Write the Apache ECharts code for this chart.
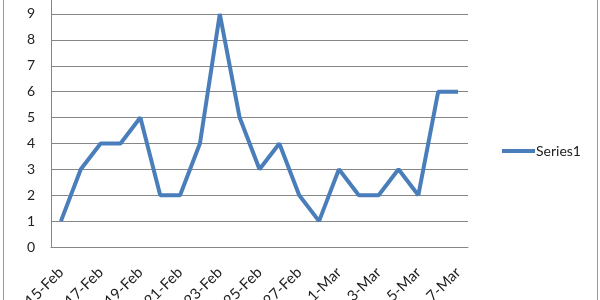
<!DOCTYPE html>
<html><head><meta charset="utf-8">
<script src="https://cdn.jsdelivr.net/npm/echarts@6/dist/echarts.min.js"></script>
<style>html,body{margin:0;padding:0;background:#fff}#c{width:600px;height:300px}</style>
</head><body><div id="c"></div>
<script>
var categories = ['15-Feb','16-Feb','17-Feb','18-Feb','19-Feb','20-Feb','21-Feb','22-Feb','23-Feb','24-Feb','25-Feb','26-Feb','27-Feb','28-Feb','1-Mar','2-Mar','3-Mar','4-Mar','5-Mar','6-Mar','7-Mar'];
var series1 = [1,3,4,4,5,2,2,4,9,5,3,4,2,1,3,2,2,3,2,6,6];
var seriesName = 'Series1';

var chart = echarts.init(document.getElementById('c'));
chart.setOption({
  animation: false,
  grid: {left: 51, top: 0, width: 417, height: 247, containLabel: false, outerBoundsMode: 'none'},
  legend: {
    data: [seriesName], left: 497, top: 139, icon: 'rect', itemWidth: 33, itemHeight: 4,
    textStyle: {fontFamily: 'Lato', fontSize: 14, color: '#222', padding: [0,0,0,-4]}
  },
  xAxis: {
    type: 'category', data: categories, boundaryGap: true,
    axisLine: {lineStyle: {color: '#868686', width: 1}},
    axisTick: {interval: 1, length: 5, lineStyle: {color: '#868686'}},
    axisLabel: {interval: 1, rotate: 45, margin: 23, fontFamily: 'Lato', fontSize: 15, color: '#222'}
  },
  yAxis: {
    type: 'value', min: 0, max: 9.54, interval: 1,
    axisLine: {show: true, lineStyle: {color: '#868686', width: 1}},
    axisTick: {show: false},
    splitLine: {showMaxLine: false, lineStyle: {color: '#868686', width: 1}},
    axisLabel: {margin: 16, showMaxLabel: false, fontFamily: 'Lato', fontSize: 14, color: '#222',
      formatter: function (v) { return Number.isInteger(v) ? String(v) : ''; }}
  },
  graphic: [
    {type: 'line', shape: {x1: 3.5, y1: 0, x2: 3.5, y2: 300}, style: {stroke: '#999', lineWidth: 1}},
    {type: 'line', shape: {x1: 597.5, y1: 0, x2: 597.5, y2: 300}, style: {stroke: '#999', lineWidth: 1}}
  ],
  series: [{
    name: seriesName, type: 'line', data: series1, symbol: 'none',
    lineStyle: {color: '#4A7EBB', width: 4}, itemStyle: {color: '#4A7EBB'}
  }]
});
</script></body></html>
